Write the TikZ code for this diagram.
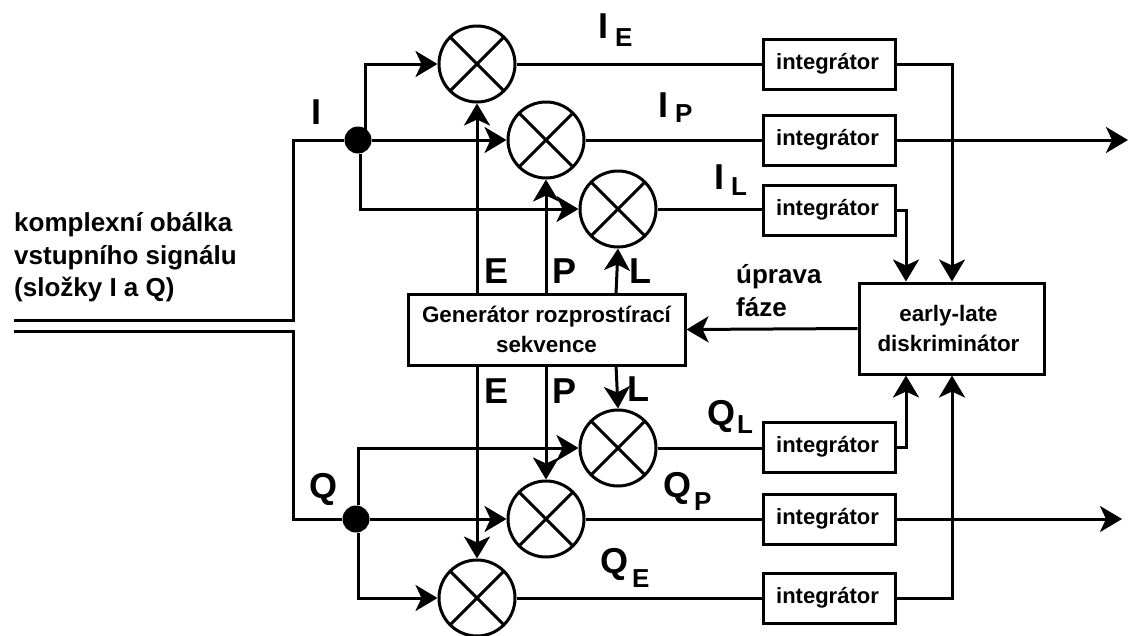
\documentclass[tikz,border=0pt]{standalone}
\usepackage{fontspec}
\setmainfont{Liberation Sans}
\usetikzlibrary{arrows.meta}
\newcommand{\sublabel}[4]{#1\hspace{#3pt}\raisebox{-#4pt}{\fontsize{26}{26}\selectfont #2}}
\tikzset{
  x=1pt,y=-1pt,
  every node/.style={font=\bfseries},
  wire/.style={line width=3pt,line cap=butt,line join=miter},
  flow/.style={wire,-{Stealth[length=22pt,width=26pt,inset=6pt]}},
  mixer/.style={circle,draw,line width=3pt,minimum size=76pt,inner sep=0pt,fill=white,
    path picture={\draw[line width=3pt]
      (path picture bounding box.north west)--(path picture bounding box.south east)
      (path picture bounding box.north east)--(path picture bounding box.south west);}},
  dot/.style={circle,fill=black,minimum size=27pt,inner sep=0pt},
  integ/.style={draw,line width=3pt,minimum width=132pt,minimum height=50pt,inner sep=0pt,font=\bfseries\fontsize{22}{22}\selectfont},
  txt/.style={font=\bfseries\fontsize{22.4}{33}\selectfont,align=center,inner sep=0pt},
  big/.style={font=\bfseries\fontsize{36}{36}\selectfont,anchor=base west,inner sep=0pt},
  plain/.style={font=\bfseries\fontsize{26}{33}\selectfont,anchor=base west,inner sep=0pt},
}
\begin{document}
\begin{tikzpicture}
\useasboundingbox (0,0) rectangle (1143,635);
% mixers
\node[mixer] (mIE) at (477,64) {};
\node[mixer] (mIP) at (546,140) {};
\node[mixer] (mIL) at (618,209) {};
\node[mixer] (mQL) at (618,448) {};
\node[mixer] (mQP) at (546,519) {};
\node[mixer] (mQE) at (477,598) {};
% junctions
\node[dot] (jI) at (358,140) {};
\node[dot] (jQ) at (356,519) {};
% integrators
\node[integ] (iIE) at (829,64) {\hspace{-3pt}integrátor};
\node[integ] (iIP) at (829,140) {\hspace{-3pt}integrátor};
\node[integ] (iIL) at (829,210) {\hspace{-3pt}integrátor};
\node[integ] (iQL) at (829,447) {\hspace{-3pt}integrátor};
\node[integ] (iQP) at (829,519) {\hspace{-3pt}integrátor};
\node[integ] (iQE) at (829,598) {\hspace{-3pt}integrátor};
% blocks
\node[draw,line width=3pt,minimum width=277pt,minimum height=71pt,txt] (gen) at (546.5,329.5) {Generátor rozprostírací\\[-3pt]sekvence};
\node[draw,line width=3pt,minimum width=185pt,minimum height=91pt,txt] (disc) at (951.5,328.5) {\hspace{-6pt}early-late\\[-3pt]\hspace{-6pt}diskriminátor};
% free ends
\coordinate (inA) at (14,320);
\coordinate (inB) at (14,331);
\coordinate (outI) at (1128,140);
\coordinate (outQ) at (1122,519);
% input
\draw[wire] (inA) -- (293,320) |- (jI.west);
\draw[wire] (inB) -- (293,331) |- (jQ.west);
% I branches
\draw[flow] (jI.center) ++(7,0) -- ++(0,-76) -- (mIE.west);
\draw[flow] (jI.east) -- (mIP.west);
\draw[flow] (jI.south) ++(2,0) |- (mIL.west);
% Q branches
\draw[flow] (jQ.north) ++(2,0) |- (mQL.west);
\draw[flow] (jQ.east) -- (mQP.west);
\draw[flow] (jQ.south) ++(2,0) |- (mQE.west);
% generator to mixers
\draw[flow] (gen.north -| mIE) -- (mIE.south);
\draw[flow] (gen.north -| mIP) -- (mIP.south);
\draw[flow] (616,294) -- (mIL.south);
\draw[flow] (gen.south -| mQE) -- (mQE.north);
\draw[flow] (gen.south -| mQP) -- (mQP.north);
\draw[flow] (616,365) -- (mQL.north);
% mixers to integrators
\foreach \a/\b in {mIE/iIE,mIP/iIP,mIL/iIL,mQL/iQL,mQP/iQP,mQE/iQE}{\draw[wire] (\a.east) -- (\b.west |- \a);}
% integrators onward
\draw[flow] (iIE.east) -| (disc.north -| 952,0);
\draw[flow] (iIL.east) -| (disc.north -| 906,0);
\draw[flow] (iQL.east) -| (disc.south -| 906,0);
\draw[flow] (iQE.east) -| (disc.south -| 952,0);
\draw[flow] (iIP.east) -- (outI);
\draw[flow] (iQP.east) -- (outQ);
\draw[flow] (disc.west) -- (gen.east);
% labels
\node[plain] (t1) at (14,231) {komplexní obálka};
\node[plain] (t2) at (14,264) {vstupního signálu};
\node[plain] (t3) at (14,296) {(složky I a Q)};
\node[plain] (t4) at (736,283) {úprava};
\node[plain] (t5) at (736,316) {fáze};
\node[big] (lI) at (311,124) {I};
\node[big] (lQ) at (309,498) {Q};
\node[big] (lE1) at (484,283) {E};
\node[big] (lP1) at (552,283) {P};
\node[big] (lL1) at (629,283) {L};
\node[big] (lE2) at (484,403) {E};
\node[big] (lP2) at (552,403) {P};
\node[big] (lL2) at (627,401) {L};
\node[big] (IE) at (598,38) {\sublabel{I}{E}{7}{8}};
\node[big] (IP) at (658,117) {\sublabel{I}{P}{7}{5}};
\node[big] (IL) at (714,189) {\sublabel{I}{L}{7}{6}};
\node[big] (QL) at (707,425) {\sublabel{Q}{L}{2}{8}};
\node[big] (QP) at (663,497) {\sublabel{Q}{P}{3}{13}};
\node[big] (QE) at (600,573) {\sublabel{Q}{E}{4}{14}};
\end{tikzpicture}
\end{document}
